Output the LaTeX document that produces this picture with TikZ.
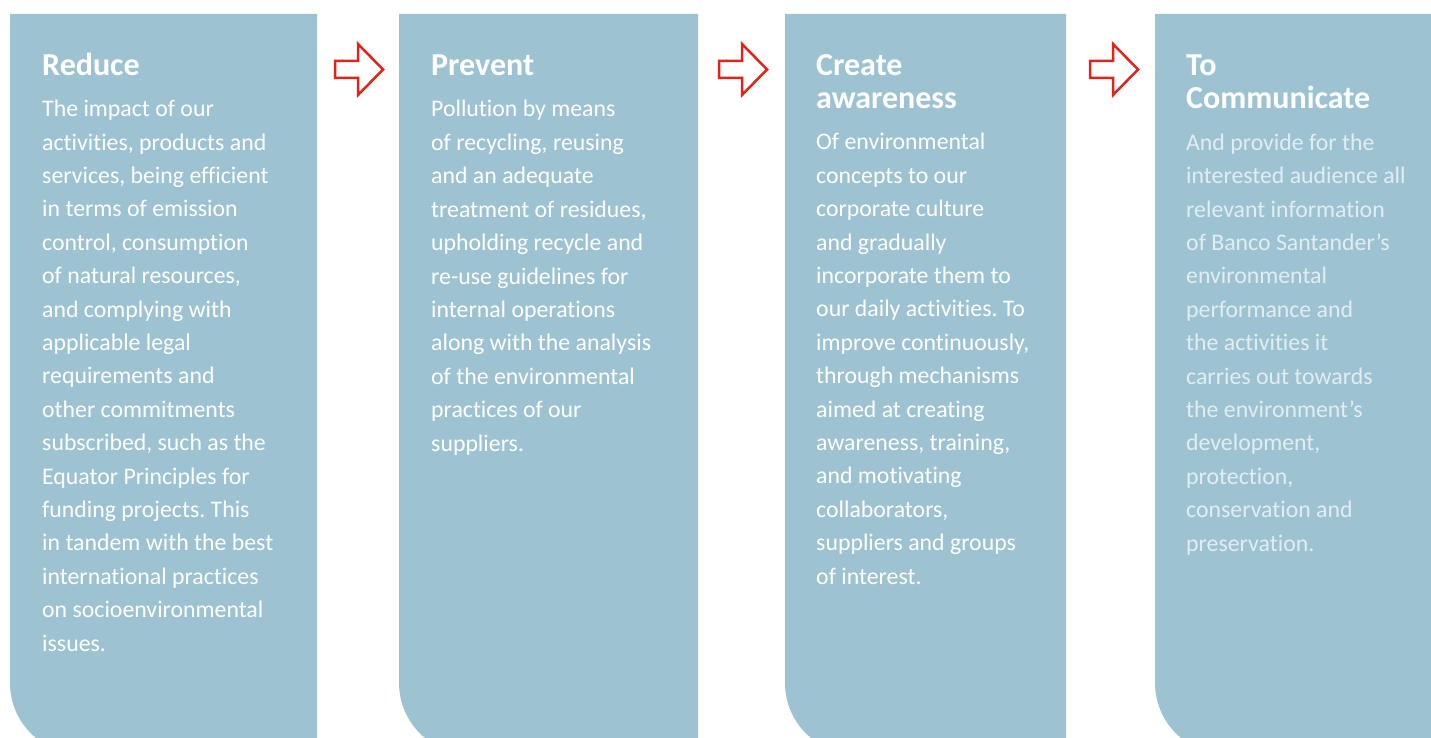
\documentclass[tikz,border=0pt]{standalone}
\usepackage{fontspec}
\setmainfont{Carlito}[Ligatures={TeX,NoCommon}]
\frenchspacing

\definecolor{panelblue}{RGB}{157,195,211}
\definecolor{arrowred}{RGB}{226,35,26}
\definecolor{paletext}{RGB}{226,237,242}

\tikzset{
  envpanel/.style={fill=panelblue, draw=none},
  envtitle/.style={anchor=base west, align=left, inner sep=0pt, text=white, font=\fontsize{32}{33.4}\selectfont\bfseries},
  envtext/.style={anchor=base west, align=left, inner sep=0pt, text=white, font=\fontsize{23.8}{33.4}\selectfont},
  envpale/.style={envtext, text=paletext},
  envarrow/.style={draw=arrowred, line width=2.5pt, fill=white, line join=miter}
}

\begin{document}
\begin{tikzpicture}[x=1pt,y=1pt]
        \useasboundingbox (0,0) rectangle (1431,737);
        \clip (0,0) rectangle (1431,737);

        % panels
        \fill[envpanel] (10,723) -- (317,723) -- (317,-17) -- (81,-17) arc[start angle=270, end angle=180, radius=71] -- cycle;
        \fill[envpanel] (399,723) -- (698,723) -- (698,-17) -- (470,-17) arc[start angle=270, end angle=180, radius=71] -- cycle;
        \fill[envpanel] (785,723) -- (1066,723) -- (1066,-17) -- (856,-17) arc[start angle=270, end angle=180, radius=71] -- cycle;
        \fill[envpanel] (1155,723) -- (1440,723) -- (1440,-17) -- (1226,-17) arc[start angle=270, end angle=180, radius=71] -- cycle;

        % arrows
        \draw[envarrow] (335,676) -- (358,676) -- (358,693) -- (383,667.5) -- (358,642) -- (358,659) -- (335,659) -- cycle;
        \draw[envarrow, xshift=384pt] (335,676) -- (358,676) -- (358,693) -- (383,667.5) -- (358,642) -- (358,659) -- (335,659) -- cycle;
        \draw[envarrow, xshift=755pt] (335,676) -- (358,676) -- (358,693) -- (383,667.5) -- (358,642) -- (358,659) -- (335,659) -- cycle;

        % base anchor = baseline of the last line
        \node[envtitle] (reduce) at (42,661) {Reduce};
        \node[envtext] (reducetext) at (42,86) {The impact of our\\activities, products and\\services, being efficient\\in terms of emission\\control, consumption\\of natural resources,\\and complying with\\applicable legal\\requirements and\\other commitments\\subscribed, such as the\\Equator Principles for\\funding projects. This\\in tandem with the best\\international practices\\on socioenvironmental\\issues.};

        \node[envtitle] (prevent) at (431,661) {Prevent};
        \node[envtext] (preventtext) at (431,286) {Pollution by means\\of recycling, reusing\\and an adequate\\treatment of residues,\\upholding recycle and\\re-use guidelines for\\internal operations\\along with the analysis\\of the environmental\\practices of our\\suppliers.};

        \node[envtitle] (aware) at (816,628) {Create\\awareness};
        \node[envtext] (awaretext) at (816,153) {Of environmental\\concepts to our\\corporate culture\\and gradually\\incorporate them to\\our daily activities. To\\improve continuously,\\through mechanisms\\aimed at creating\\awareness, training,\\and motivating\\collaborators,\\suppliers and groups\\of interest.};

        \node[envtitle] (commun) at (1186,628) {To\\Communicate};
        \node[envpale] (communtext) at (1186,186) {And provide for the\\interested audience all\\relevant information\\of Banco Santander’s\\environmental\\performance and\\the activities it\\carries out towards\\the environment’s\\development,\\protection,\\conservation and\\preservation.};
    \end{tikzpicture}
\end{document}
